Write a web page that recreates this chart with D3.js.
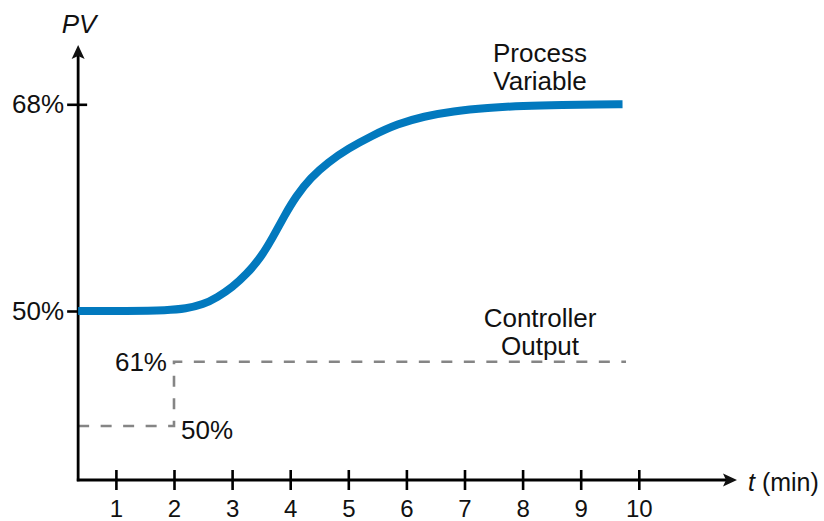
<!DOCTYPE html>
<html>
<head>
<meta charset="utf-8">
<script src="https://cdn.jsdelivr.net/npm/d3@7"></script>
<style>
  body { margin: 0; background: #fff; }
  svg text { font-family: Arial, "Liberation Sans", sans-serif; fill: #111; }
</style>
</head>
<body>
<div id="chart"></div>
<script>
// time ticks along the t axis (min)
const timeTicks = [1, 2, 3, 4, 5, 6, 7, 8, 9, 10];

// PV axis ticks (%)
const pvTicks = [50, 68];

// Process variable response
const pvTime = [0.35, 1.2, 1.9, 2.2, 2.5, 2.75, 3.0, 3.25, 3.5, 3.7, 3.9, 4.1, 4.35, 4.65, 5.0, 5.4, 5.85, 6.3, 6.8, 7.4, 8.0, 8.7, 9.3, 9.72];
const pvValue = [50.0, 50.0, 50.06, 50.2, 50.55, 51.2, 52.05, 53.2, 54.7, 56.4, 58.3, 60.0, 61.6, 62.95, 64.15, 65.25, 66.3, 66.95, 67.4, 67.7, 67.87, 67.95, 67.99, 68.0];

// Controller output step (%)
const coTime = [0.35, 2.0, 2.0, 9.78];
const coValue = [50, 50, 61, 61];

const width = 824, height = 521;

const svg = d3.select('#chart')
  .append('svg')
  .attr('width', width)
  .attr('height', height);

// Scales
const x = d3.scaleLinear().domain([0, 10]).range([57.8, 638.8]);
const y = d3.scaleLinear().domain([50, 68]).range([311, 104.3]);
const yCo = d3.scaleLinear().domain([50, 61]).range([426, 361.7]);

const axisX = x(pvTime[0]);   // where the PV axis sits
const axisY = 480;            // where the time axis sits

// Controller output (dashed grey)
const coLine = d3.line()
  .x(d => x(d[0]))
  .y(d => yCo(d[1]));

svg.append('path')
  .datum(coTime.map((t, i) => [t, coValue[i]]))
  .attr('d', coLine)
  .attr('fill', 'none')
  .attr('stroke', '#858585')
  .attr('stroke-width', 2.6)
  .attr('stroke-dasharray', '11 11.5');

// Time axis
const xAxis = svg.append('g')
  .attr('transform', `translate(0,${axisY})`)
  .call(d3.axisBottom(x).tickValues(timeTicks).tickSize(10).tickPadding(10));
xAxis.select('.domain').remove();
xAxis.selectAll('.tick line')
  .attr('y1', -10).attr('y2', 10)
  .attr('stroke', '#000').attr('stroke-width', 2.6);
xAxis.selectAll('.tick text')
  .attr('font-size', 24)
  .attr('font-family', 'Arial, "Liberation Sans", sans-serif')
  .attr('fill', '#111');

svg.append('line')
  .attr('x1', axisX - 1.3).attr('x2', 726)
  .attr('y1', axisY).attr('y2', axisY)
  .attr('stroke', '#000').attr('stroke-width', 2.8);
svg.append('path')
  .attr('d', `M737,${axisY} L723,${axisY - 6.5} L726,${axisY} L723,${axisY + 6.5} Z`)
  .attr('fill', '#111');

// PV axis
const yAxis = svg.append('g')
  .attr('transform', `translate(${axisX},0)`)
  .call(d3.axisLeft(y).tickValues(pvTicks).tickSize(10).tickPadding(4).tickFormat(d => d + '%'));
yAxis.select('.domain').remove();
yAxis.selectAll('.tick line')
  .attr('x1', -11).attr('x2', 9)
  .attr('stroke', '#000').attr('stroke-width', 2.6);
yAxis.selectAll('.tick text')
  .attr('font-size', 26)
  .attr('font-family', 'Arial, "Liberation Sans", sans-serif')
  .attr('fill', '#111');

svg.append('line')
  .attr('x1', axisX).attr('x2', axisX)
  .attr('y1', axisY + 1.3).attr('y2', 56)
  .attr('stroke', '#000').attr('stroke-width', 2.8);
svg.append('path')
  .attr('d', `M${axisX},45 L${axisX - 6.5},59 L${axisX},56 L${axisX + 6.5},59 Z`)
  .attr('fill', '#111');

// Process variable curve
const pvLine = d3.line()
  .x(d => x(d[0]))
  .y(d => y(d[1]))
  .curve(d3.curveBasis);

svg.append('path')
  .datum(pvTime.map((t, i) => [t, pvValue[i]]))
  .attr('d', pvLine)
  .attr('fill', 'none')
  .attr('stroke', '#0279be')
  .attr('stroke-width', 8);

// Axis titles
svg.append('text')
  .attr('x', axisX + 1).attr('y', 33)
  .attr('text-anchor', 'middle')
  .attr('font-size', 26)
  .attr('font-style', 'italic')
  .text('PV');

const tLabel = svg.append('text')
  .attr('x', 748).attr('y', 491)
  .attr('font-size', 25);
tLabel.append('tspan').attr('font-style', 'italic').text('t');
tLabel.append('tspan').text(' (min)');

// Series labels
const labelSize = 26;
svg.append('text')
  .attr('x', 540).attr('y', 62)
  .attr('text-anchor', 'middle')
  .attr('font-size', labelSize)
  .text('Process');
svg.append('text')
  .attr('x', 540).attr('y', 90)
  .attr('text-anchor', 'middle')
  .attr('font-size', labelSize)
  .text('Variable');

svg.append('text')
  .attr('x', 540).attr('y', 327)
  .attr('text-anchor', 'middle')
  .attr('font-size', labelSize)
  .text('Controller');
svg.append('text')
  .attr('x', 540).attr('y', 355)
  .attr('text-anchor', 'middle')
  .attr('font-size', labelSize)
  .text('Output');

// Controller output step labels
svg.append('text')
  .attr('x', x(coTime[2]) - 7).attr('y', yCo(coValue[2]) + 9)
  .attr('text-anchor', 'end')
  .attr('font-size', labelSize)
  .text(coValue[2] + '%');
svg.append('text')
  .attr('x', x(coTime[1]) + 7).attr('y', yCo(coValue[1]) + 12.5)
  .attr('font-size', labelSize)
  .text(coValue[1] + '%');
</script>
</body>
</html>
